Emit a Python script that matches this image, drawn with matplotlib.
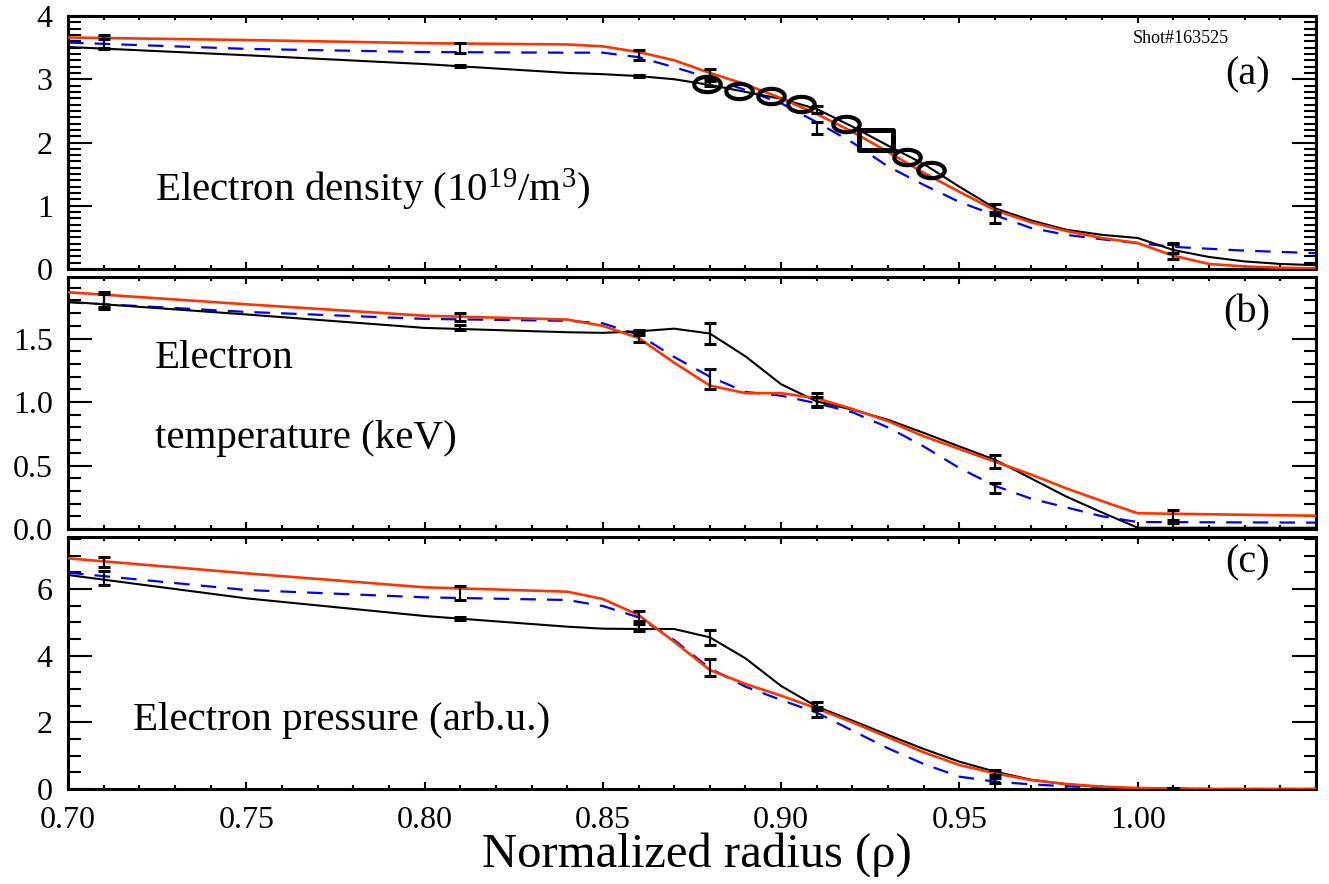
import matplotlib
matplotlib.use('Agg')
import matplotlib.pyplot as plt
import numpy as np
from matplotlib.path import Path
from matplotlib.ticker import MultipleLocator, FixedLocator

plt.rcParams['font.family'] = ['Liberation Serif', 'DejaVu Serif']
plt.rcParams['mathtext.fontset'] = 'custom'
plt.rcParams['mathtext.rm'] = 'Liberation Serif'
plt.rcParams['mathtext.it'] = 'Liberation Serif:italic'

# radial grid for the profiles
rho = [0.70, 0.75, 0.80, 0.84, 0.85, 0.86, 0.87, 0.88, 0.89, 0.90, 0.91,
       0.92, 0.93, 0.94, 0.95, 0.96, 0.97, 0.98, 0.99, 1.00, 1.01, 1.02,
       1.03, 1.04, 1.05]

# (a) electron density
ne_black = [3.51, 3.38, 3.24, 3.10, 3.08, 3.05, 3.00, 2.91, 2.80, 2.69, 2.53,
            2.25, 1.95, 1.66, 1.30, 0.96, 0.77, 0.62, 0.54, 0.49, 0.30, 0.19,
            0.12, 0.08, 0.06]
ne_red = [3.66, 3.62, 3.57, 3.55, 3.52, 3.43, 3.30, 3.10, 2.92, 2.70, 2.45,
          2.17, 1.85, 1.52, 1.22, 0.93, 0.74, 0.60, 0.49, 0.41, 0.21, 0.08,
          0.04, 0.02, 0.01]
ne_blue = [3.58, 3.48, 3.43, 3.42, 3.42, 3.35, 3.19, 3.02, 2.83, 2.62, 2.32,
           2.00, 1.62, 1.33, 1.06, 0.85, 0.65, 0.54, 0.47, 0.41, 0.35, 0.32,
           0.29, 0.27, 0.25]

# (b) electron temperature
te_black = [1.79, 1.69, 1.584, 1.55, 1.545, 1.557, 1.578, 1.54, 1.36, 1.14,
            1.005, 0.94, 0.86, 0.757, 0.65, 0.545, 0.40, 0.255, 0.13, 0.01,
            0.01, 0.01, 0.01, 0.01, 0.01]
te_red = [1.865, 1.77, 1.68, 1.65, 1.60, 1.505, 1.31, 1.13, 1.07, 1.07, 1.03,
          0.945, 0.85, 0.73, 0.63, 0.53, 0.43, 0.32, 0.22, 0.124, 0.12, 0.116,
          0.112, 0.108, 0.105]
te_blue = [1.786, 1.71, 1.655, 1.64, 1.62, 1.53, 1.355, 1.20, 1.08, 1.05,
           0.99, 0.92, 0.80, 0.65, 0.48, 0.34, 0.24, 0.17, 0.10, 0.055, 0.054,
           0.053, 0.052, 0.051, 0.05]

# (c) electron pressure
pe_black = [6.42, 5.72, 5.19, 4.87, 4.81, 4.80, 4.80, 4.55, 3.92, 3.09, 2.47,
            2.05, 1.62, 1.20, 0.82, 0.52, 0.28, 0.14, 0.06, 0.02, 0.01, 0.0,
            0.0, 0.0, 0.0]
pe_red = [6.92, 6.47, 6.05, 5.92, 5.70, 5.22, 4.42, 3.57, 3.15, 2.80, 2.42,
          2.00, 1.55, 1.10, 0.72, 0.47, 0.27, 0.15, 0.07, 0.03, 0.01, 0.0,
          0.0, 0.0, 0.0]
pe_blue = [6.49, 5.97, 5.75, 5.67, 5.49, 5.15, 4.47, 3.62, 3.07, 2.67, 2.29,
           1.75, 1.22, 0.75, 0.37, 0.22, 0.14, 0.08, 0.04, 0.02, 0.01, 0.0,
           0.0, 0.0, 0.0]

# measurements with error bars
rho_err = [0.71, 0.81, 0.86, 0.88, 0.91, 0.96, 1.01]
ne_a = [3.56, 3.21, 3.05, 2.93, 2.52, 0.96, 0.28]
ne_a_err = [0.08, 0.02, 0.02, 0.04, 0.05, 0.06, 0.12]
ne_b = [3.60, 3.49, 3.38, 3.09, 2.23, 0.79, 0.33]
ne_b_err = [0.10, 0.08, 0.08, 0.07, 0.10, 0.07, 0.08]
te_a = [1.80, 1.59, 1.55, 1.54, 1.02, 0.53, 0.04]
te_a_err = [0.05, 0.02, 0.02, 0.08, 0.05, 0.05, 0.03]
te_b = [1.80, 1.67, 1.51, 1.18, 1.00, 0.32, 0.10]
te_b_err = [0.07, 0.03, 0.04, 0.08, 0.04, 0.04, 0.05]
pe_a = [6.33, 5.12, 4.85, 4.55, 2.48, 0.50, 0.01]
pe_a_err = [0.20, 0.05, 0.10, 0.22, 0.12, 0.07, 0.02]
pe_b = [6.82, 5.88, 5.18, 3.65, 2.30, 0.25, 0.01]
pe_b_err = [0.15, 0.22, 0.15, 0.25, 0.15, 0.07, 0.02]

# interferometer-like points in (a)
rho_ell = [0.8793, 0.8883, 0.8972, 0.9057, 0.9183, 0.9354, 0.9421]
ne_ell = [2.92, 2.81, 2.73, 2.61, 2.29, 1.77, 1.56]
rho_sq = [0.9267]
ne_sq = [2.04]

xticks = [0.70, 0.75, 0.80, 0.85, 0.90, 0.95, 1.00]

RED = '#ff3300'
BLUE = '#0000ff'

fig = plt.figure(figsize=(13.29, 8.84), dpi=100)
left, width = 68 / 1329, (1316 - 68) / 1329
ax_a = fig.add_axes([left, 1 - 269 / 884, width, 253 / 884])
ax_b = fig.add_axes([left, 1 - 529 / 884, width, 252 / 884])
ax_c = fig.add_axes([left, 1 - 789 / 884, width, 252 / 884])

t = np.linspace(0, 2 * np.pi, 80)
ell_path = Path(np.column_stack([np.cos(t), 0.58 * np.sin(t)]), closed=True)
sq_path = Path([(-1, -0.55), (1, -0.55), (1, 0.55), (-1, 0.55), (-1, -0.55)],
               closed=True)

panels = [
    (ax_a, ne_black, ne_red, ne_blue, ne_a, ne_a_err, ne_b, ne_b_err, 4.0, 1, 0.1),
    (ax_b, te_black, te_red, te_blue, te_a, te_a_err, te_b, te_b_err, 1.985, 0.5, 0.1),
    (ax_c, pe_black, pe_red, pe_blue, pe_a, pe_a_err, pe_b, pe_b_err, 7.56, 2, 0.5),
]

for ax, yk, yr, yb, ea, eaerr, eb, eberr, ytop, ymaj, ymin in panels:
    ax.plot(rho, yb, color=BLUE, lw=1.6, dashes=(7, 5), zorder=2)
    ax.plot(rho, yk, color='black', lw=1.5, zorder=3)
    ax.plot(rho, yr, color=RED, lw=1.9, zorder=4)
    for yv, ye in ((ea, eaerr), (eb, eberr)):
        ax.errorbar(rho_err, yv, yerr=ye, fmt='none', ecolor='black',
                    elinewidth=1.6, capsize=4.5, capthick=2.2, zorder=5)
    ax.set_xlim(0.70, 1.05)
    ax.set_ylim(0, ytop)
    ax.xaxis.set_major_locator(FixedLocator(xticks))
    ax.xaxis.set_minor_locator(MultipleLocator(0.01))
    ax.yaxis.set_major_locator(MultipleLocator(ymaj))
    ax.yaxis.set_minor_locator(MultipleLocator(ymin))
    ax.tick_params(axis='both', which='both', direction='in', top=True,
                   right=True, width=1.5, labelsize=23)
    ax.tick_params(axis='x', which='major', length=5)
    ax.tick_params(axis='x', which='minor', length=3)
    ax.tick_params(axis='y', which='major', length=17, pad=11)
    ax.tick_params(axis='y', which='minor', length=9)
    for sp in ax.spines.values():
        sp.set_linewidth(2.2)

ax_a.plot(rho_ell, ne_ell, linestyle='none', marker=ell_path, markersize=19,
          mfc='none', mec='black', mew=3.0, zorder=6)
ax_a.plot(rho_sq, ne_sq, linestyle='none', marker=sq_path, markersize=25,
          mfc='none', mec='black', mew=3.6, zorder=6)

ax_a.yaxis.set_major_formatter(plt.FuncFormatter(lambda v, p: '%d' % round(v)))
ax_b.yaxis.set_major_formatter(plt.FuncFormatter(lambda v, p: '%.1f' % v))
ax_c.yaxis.set_major_formatter(plt.FuncFormatter(lambda v, p: '%d' % round(v)))
ax_c.xaxis.set_major_formatter(plt.FuncFormatter(lambda v, p: '%.2f' % v))
ax_a.tick_params(axis='x', labelbottom=False)
ax_b.tick_params(axis='x', labelbottom=False)
ax_c.tick_params(axis='x', pad=12)

ax_a.text(0.0697, 0.312, 'Electron density (10$^{19}$/m$^{3}$)',
          transform=ax_a.transAxes, fontsize=29.5, va='center', ha='left')
ax_a.text(0.930, 0.913, 'Shot#163525', transform=ax_a.transAxes,
          fontsize=13, va='center', ha='right')
ax_a.text(0.963, 0.767, '(a)', transform=ax_a.transAxes, fontsize=29,
          va='center', ha='right')

ax_b.text(0.0697, 0.675, 'Electron', transform=ax_b.transAxes, fontsize=29.5,
          va='center', ha='left')
ax_b.text(0.0697, 0.36, 'temperature (keV)', transform=ax_b.transAxes,
          fontsize=29.5, va='center', ha='left')
ax_b.text(0.963, 0.857, '(b)', transform=ax_b.transAxes, fontsize=29,
          va='center', ha='right')

ax_c.text(0.052, 0.274, 'Electron pressure (arb.u.)', transform=ax_c.transAxes,
          fontsize=29.5, va='center', ha='left')
ax_c.text(0.963, 0.897, '(c)', transform=ax_c.transAxes, fontsize=29,
          va='center', ha='right')

fig.text(0.524, 0.033, 'Normalized radius (ρ)', fontsize=35, ha='center',
         va='center')

fig.savefig('out.png', dpi=100)
